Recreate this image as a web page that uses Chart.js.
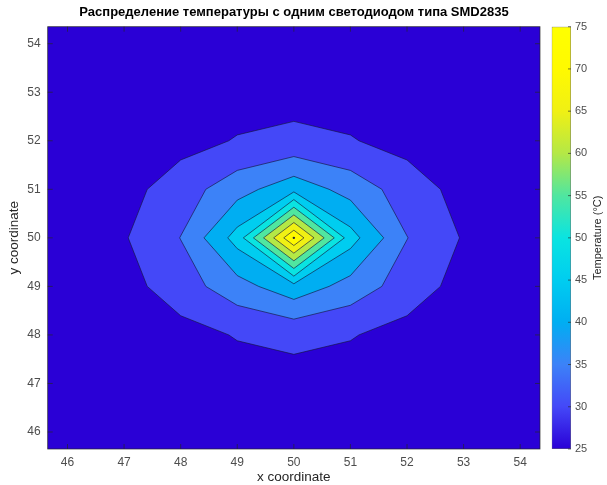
<!DOCTYPE html>
<html><head><meta charset="utf-8">
<script src="https://cdn.jsdelivr.net/npm/chart.js@4.4.1/dist/chart.umd.min.js"></script>
<style>
html,body{margin:0;padding:0;background:#fff;}
#wrap{position:relative;width:607px;height:485px;overflow:hidden;}
#main{position:absolute;left:0;top:0;}
#cbar{position:absolute;left:545px;top:0;}
</style></head><body>
<div id="wrap">
<canvas id="main" width="588" height="485" style="width:588px;height:485px"></canvas>
<canvas id="cbar" width="62" height="485" style="width:62px;height:485px"></canvas>
</div>
<script>
// ---------------- data ----------------
const titleText = 'Распределение температуры с одним светодиодом типа SMD2835';
const xCoords = [46, 47, 48, 49, 50, 51, 52, 53, 54];
const yCoords = [46, 47, 48, 49, 50, 51, 52, 53, 54];
// temperature (°C); rows follow yCoords, columns follow xCoords
const tempRows = [
  [25.0, 25.6, 26.0, 26.5, 26.8, 26.5, 26.0, 25.6, 25.0], // y=46
  [25.8, 26.2, 26.8, 27.8, 28.5, 27.8, 26.8, 26.2, 25.8], // y=47
  [26.5, 27.2, 28.3, 30.3, 31.0, 30.3, 28.3, 27.2, 26.5], // y=48
  [27.0, 28.2, 32.6, 38.0, 43.3, 38.0, 32.6, 28.2, 27.0], // y=49
  [27.5, 29.6, 35.1, 47.0, 75.0, 47.0, 35.1, 29.6, 27.5], // y=50
  [27.0, 28.2, 32.6, 38.0, 43.3, 38.0, 32.6, 28.2, 27.0], // y=51
  [26.5, 27.2, 28.3, 30.3, 31.0, 30.3, 28.3, 27.2, 26.5], // y=52
  [25.8, 26.2, 26.8, 27.8, 28.5, 27.8, 26.8, 26.2, 25.8], // y=53
  [25.0, 25.6, 26.0, 26.5, 26.8, 26.5, 26.0, 25.6, 25.0]  // y=54
];
const contourLevels = [30, 35, 40, 45, 50, 55, 60, 65, 70];
const xTickValues = [46, 47, 48, 49, 50, 51, 52, 53, 54];
const yTickValues = [46, 47, 48, 49, 50, 51, 52, 53, 54];
const cbarTickValues = [25, 30, 35, 40, 45, 50, 55, 60, 65, 70, 75];
const cbarMin = 25, cbarMax = 75;
// colormap stops (value -> colour)
const cmapValues = [25, 30, 35, 40, 45, 50, 55, 60, 65, 70, 75];
const cmapColors = [
  [42, 0, 214], [68, 72, 248], [60, 130, 248], [0, 174, 242], [0, 205, 240],
  [10, 228, 225], [80, 230, 160], [180, 232, 70], [240, 240, 20], [255, 250, 0], [255, 255, 0]
];

// ---------------- helpers ----------------
const FONT = "'Liberation Sans', Arial, Helvetica, sans-serif";
function colorAt(v) {
  if (v <= cmapValues[0]) return 'rgb(' + cmapColors[0].join(',') + ')';
  for (let i = 0; i < cmapValues.length - 1; i++) {
    if (v <= cmapValues[i + 1]) {
      const t = (v - cmapValues[i]) / (cmapValues[i + 1] - cmapValues[i]);
      const c = cmapColors[i].map((a, k) => Math.round(a + t * (cmapColors[i + 1][k] - a)));
      return 'rgb(' + c.join(',') + ')';
    }
  }
  return 'rgb(' + cmapColors[cmapColors.length - 1].join(',') + ')';
}
function peakLocation() {
  let best = -Infinity, px = 0, py = 0;
  tempRows.forEach((row, j) => row.forEach((z, i) => { if (z > best) { best = z; px = xCoords[i]; py = yCoords[j]; } }));
  return {x: px, y: py, z: best};
}
const peak = peakLocation();
// boundary of {T >= level}: crossings on grid edges (linear interpolation), ordered around the peak
function contourPolygon(level) {
  const pts = [];
  const ny = yCoords.length, nx = xCoords.length;
  for (let j = 0; j < ny; j++) {
    for (let i = 0; i < nx; i++) {
      const z0 = tempRows[j][i];
      if (i < nx - 1) {
        const z1 = tempRows[j][i + 1];
        if ((z0 - level) * (z1 - level) < 0) {
          const t = (level - z0) / (z1 - z0);
          pts.push({x: xCoords[i] + t * (xCoords[i + 1] - xCoords[i]), y: yCoords[j]});
        }
      }
      if (j < ny - 1) {
        const z1 = tempRows[j + 1][i];
        if ((z0 - level) * (z1 - level) < 0) {
          const t = (level - z0) / (z1 - z0);
          pts.push({x: xCoords[i], y: yCoords[j] + t * (yCoords[j + 1] - yCoords[j])});
        }
      }
    }
  }
  pts.sort((a, b) => Math.atan2(a.y - peak.y, a.x - peak.x) - Math.atan2(b.y - peak.y, b.x - peak.x));
  if (pts.length) pts.push({x: pts[0].x, y: pts[0].y});
  return pts;
}

const datasets = contourLevels.map(L => ({
  label: 'T ≥ ' + L,
  data: contourPolygon(L),
  showLine: true,
  fill: 'shape',
  tension: 0,
  backgroundColor: colorAt(L),
  borderColor: 'rgba(20,20,60,0.8)',
  borderWidth: 0.8,
  pointRadius: 0,
  order: -L
}));
datasets.push({
  label: 'peak',
  data: [{x: peak.x, y: peak.y}],
  showLine: false,
  pointRadius: 1.2,
  pointBackgroundColor: 'rgba(20,20,60,0.9)',
  pointBorderWidth: 0,
  order: -1000
});

const plotFrame = {
  id: 'plotFrame',
  beforeDatasetsDraw(chart) {
    const {ctx, chartArea: a} = chart;
    ctx.save();
    ctx.fillStyle = colorAt(cbarMin);
    ctx.fillRect(a.left, a.top, a.right - a.left, a.bottom - a.top);
    ctx.restore();
  },
  afterDatasetsDraw(chart) {
    const {ctx, chartArea: a, scales} = chart;
    ctx.save();
    ctx.strokeStyle = 'rgba(38,38,38,0.85)';
    ctx.lineWidth = 0.8;
    ctx.strokeRect(a.left, a.top, a.right - a.left, a.bottom - a.top);
    ctx.beginPath();
    const tl = 5;
    xTickValues.forEach(v => {
      const px = scales.x.getPixelForValue(v);
      ctx.moveTo(px, a.bottom); ctx.lineTo(px, a.bottom - tl);
      ctx.moveTo(px, a.top); ctx.lineTo(px, a.top + tl);
    });
    yTickValues.forEach(v => {
      const py = scales.y.getPixelForValue(v);
      ctx.moveTo(a.left, py); ctx.lineTo(a.left + tl, py);
      ctx.moveTo(a.right, py); ctx.lineTo(a.right - tl, py);
    });
    ctx.stroke();
    ctx.restore();
  }
};

new Chart(document.getElementById('main'), {
  type: 'scatter',
  data: {datasets},
  options: {
    responsive: false,
    animation: false,
    layout: {padding: 0},
    plugins: {
      legend: {display: false},
      tooltip: {enabled: false},
      title: {
        display: true, text: titleText, color: '#000',
        font: {family: FONT, size: 13, weight: 'bold'},
        padding: {top: 5, bottom: 6.1}
      }
    },
    scales: {
      x: {
        type: 'linear', position: 'bottom', min: 45.65, max: 54.35,
        afterBuildTicks: s => { s.ticks = xTickValues.map(v => ({value: v})); },
        afterFit: s => { s.height = 36; },
        grid: {display: false, drawTicks: false},
        border: {display: false},
        ticks: {padding: 6, color: '#4d4d4d', font: {family: FONT, size: 12}, maxRotation: 0, autoSkip: false},
        title: {display: true, text: 'x coordinate', color: '#262626', font: {family: FONT, size: 13.5}, padding: {top: 0, bottom: 0}}
      },
      y: {
        type: 'linear', position: 'left', min: 45.65, max: 54.35,
        afterBuildTicks: s => { s.ticks = yTickValues.map(v => ({value: v})); },
        afterFit: s => { s.width = 47.7; },
        grid: {display: false, drawTicks: false},
        border: {display: false},
        ticks: {padding: 7, color: '#4d4d4d', font: {family: FONT, size: 12}, autoSkip: false},
        title: {display: true, text: 'y coordinate', color: '#262626', font: {family: FONT, size: 13.5}, padding: {top: 6, bottom: 0}}
      },
      yRight: {
        type: 'linear', position: 'right', display: true,
        afterFit: s => { s.width = 48; },
        grid: {display: false, drawTicks: false},
        border: {display: false},
        ticks: {display: false}
      }
    }
  },
  plugins: [plotFrame]
});

// ---------------- colour bar ----------------
function cbarGradient(chart) {
  const y = chart.scales.y;
  if (!chart.chartArea || !y) return colorAt(cbarMin);
  const g = chart.ctx.createLinearGradient(0, y.getPixelForValue(cbarMin), 0, y.getPixelForValue(cbarMax));
  cmapValues.forEach(v => g.addColorStop((v - cbarMin) / (cbarMax - cbarMin), colorAt(v)));
  return g;
}
const cbarDecor = {
  id: 'cbarDecor',
  afterDatasetsDraw(chart) {
    const {ctx, chartArea: a, scales} = chart;
    ctx.save();
    ctx.strokeStyle = 'rgba(38,38,38,0.8)';
    ctx.lineWidth = 0.8;
    ctx.beginPath();
    cbarTickValues.forEach(v => {
      const py = scales.y.getPixelForValue(v);
      ctx.moveTo(a.right, py); ctx.lineTo(a.right - 3, py);
    });
    ctx.stroke();
    ctx.translate(53, (a.top + a.bottom) / 2);
    ctx.rotate(-Math.PI / 2);
    ctx.fillStyle = '#262626';
    ctx.font = '11px ' + FONT;
    ctx.textAlign = 'center';
    ctx.textBaseline = 'middle';
    ctx.fillText('Temperature (°C)', 0, 0);
    ctx.restore();
  }
};
new Chart(document.getElementById('cbar'), {
  type: 'bar',
  data: {
    labels: ['Temperature'],
    datasets: [{
      data: [[cbarMin, cbarMax]],
      backgroundColor: c => cbarGradient(c.chart),
      borderColor: 'rgba(70,70,70,0.8)',
      borderWidth: 0.8,
      borderSkipped: false,
      barPercentage: 1,
      categoryPercentage: 1
    }]
  },
  options: {
    responsive: false,
    animation: false,
    layout: {padding: {left: 6.7, top: 26.7, bottom: 36, right: 0}},
    plugins: {legend: {display: false}, tooltip: {enabled: false}, title: {display: false}},
    scales: {
      x: {display: false},
      y: {
        position: 'right', min: cbarMin, max: cbarMax,
        afterBuildTicks: s => { s.ticks = cbarTickValues.map(v => ({value: v})); },
        afterFit: s => { s.width = 36; },
        grid: {display: false, drawTicks: false},
        border: {display: false},
        ticks: {padding: 4, color: '#4d4d4d', font: {family: FONT, size: 11}, autoSkip: false}
      }
    }
  },
  plugins: [cbarDecor]
});
</script>
</body></html>
